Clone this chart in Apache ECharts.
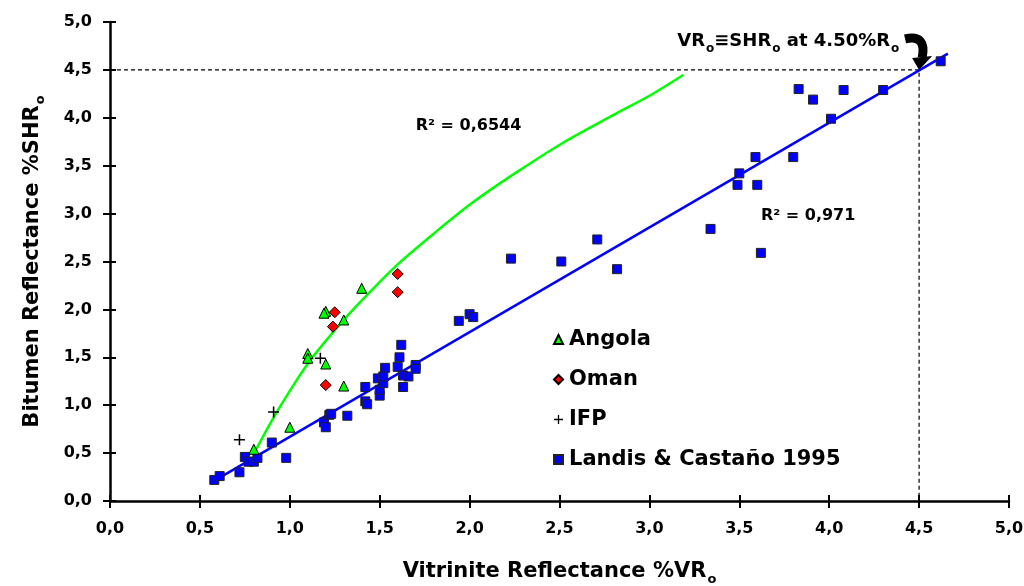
<!DOCTYPE html>
<html><head><meta charset="utf-8">
<script src="https://cdn.jsdelivr.net/npm/echarts@6/dist/echarts.min.js"></script>
<style>html,body{margin:0;padding:0;background:#fff}#c{width:1024px;height:586px}</style>
</head><body><div id="c"></div>
<script>
// ---- data ----
const xTicks = [0, 0.5, 1, 1.5, 2, 2.5, 3, 3.5, 4, 4.5, 5];
const angola = [[0.80,0.54],[1.00,0.77],[1.10,1.54],[1.10,1.49],[1.20,1.43],[1.20,1.98],[1.19,1.96],[1.30,1.89],[1.30,1.20],[1.40,2.22]];
const oman = [[1.25,1.97],[1.24,1.82],[1.20,1.21],[1.60,2.37],[1.60,2.18]];
const ifp = [[0.72,0.64],[0.91,0.93],[1.17,1.49]];
const landis = [[0.58,0.22],[0.61,0.26],[0.72,0.30],[0.75,0.46],[0.77,0.41],[0.80,0.41],[0.82,0.45],[0.90,0.61],[0.98,0.45],
  [1.19,0.82],[1.20,0.77],[1.22,0.90],[1.23,0.91],[1.32,0.89],[1.42,1.19],[1.42,1.04],[1.43,1.01],[1.49,1.28],[1.50,1.10],
  [1.50,1.16],[1.52,1.23],[1.53,1.39],[1.52,1.30],[1.60,1.40],[1.61,1.50],[1.62,1.63],[1.63,1.31],[1.63,1.19],[1.66,1.30],
  [1.70,1.42],[1.70,1.38],[1.94,1.88],[2.00,1.95],[2.02,1.92],[2.23,2.53],[2.51,2.50],[2.71,2.73],[2.82,2.42],[3.34,2.84],
  [3.62,2.59],[3.49,3.30],[3.50,3.42],[3.60,3.30],[3.59,3.59],[3.80,3.59],[4.01,3.99],[3.83,4.30],[3.91,4.19],[4.08,4.29],
  [4.30,4.29],[4.62,4.59]];
const angolaTrend = [[0.81,0.53],[0.90,0.84],[1.00,1.15],[1.11,1.46],[1.30,1.89],[1.45,2.19],[1.60,2.47],[1.80,2.79],[2.02,3.12],[2.26,3.43],[2.52,3.74],[2.80,4.03],[3.00,4.23],[3.19,4.45]];
const landisTrend = [[0.56,0.19],[4.66,4.67]];
const refLine = [[0,4.5],[4.5,4.5],[4.5,0]];
const r2Angola = 'R² = 0,6544';
const r2Landis = 'R² = 0,971';

const FONT = 'DejaVu Sans';
const fmt = v => v.toFixed(1).replace('.', ',');
const plus = 'path://M4.3,0H5.7V4.3H10V5.7H5.7V10H4.3V5.7H0V4.3H4.3Z';
const subRich = { b: { fontFamily: FONT, fontWeight: 'bold', fontSize: 21, color: '#000', lineHeight: 24 },
                  s: { fontFamily: FONT, fontWeight: 'bold', fontSize: 13, color: '#000', verticalAlign: 'top', padding: [13,0,0,1], lineHeight: 13 } };

const baseAxis = { min: 0, max: 5, interval: 0.5, splitLine: { show: false } };
const chart = echarts.init(document.getElementById('c'));
chart.setOption({
  animation: false,
  backgroundColor: '#fff',
  grid: { left: 110, right: 15, top: 22, bottom: 85, containLabel: false, outerBoundsMode: 'none' },
  xAxis: [
    Object.assign({}, baseAxis, { type: 'value', position: 'bottom',
      axisLine: { lineStyle: { color: '#000', width: 2.5 } },
      axisTick: { length: 7, lineStyle: { color: '#000', width: 2 } },
      axisLabel: { formatter: fmt, color: '#000', fontFamily: FONT, fontWeight: 'bold', fontSize: 16, margin: 20 },
      name: '{b|Vitrinite Reflectance %VR}{s|o}', nameLocation: 'middle', nameGap: 59,
      nameTextStyle: { rich: subRich } }),
    Object.assign({}, baseAxis, { type: 'value', position: 'bottom', axisLine: { show: false },
      axisTick: { inside: true, length: 6, lineStyle: { color: '#000', width: 2 } }, axisLabel: { show: false } })
  ],
  yAxis: [
    Object.assign({}, baseAxis, { type: 'value', position: 'left',
      axisLine: { lineStyle: { color: '#000', width: 2.5 } },
      axisTick: { length: 7, lineStyle: { color: '#000', width: 2 } },
      axisLabel: { formatter: fmt, color: '#000', fontFamily: FONT, fontWeight: 'bold', fontSize: 16, margin: 18 },
      name: '{b|Bitumen Reflectance %SHR}{s|o}', nameLocation: 'middle', nameGap: 65, nameRotate: 90,
      nameTextStyle: { rich: subRich } }),
    Object.assign({}, baseAxis, { type: 'value', position: 'left', axisLine: { show: false },
      axisTick: { inside: true, length: 6, lineStyle: { color: '#000', width: 2 } }, axisLabel: { show: false } })
  ],
  legend: {
    orient: 'vertical', left: 548, top: 323, itemWidth: 9, itemHeight: 9, itemGap: 17,
    data: ['Angola', 'Oman', 'IFP', 'Landis & Castaño 1995'],
    textStyle: { fontFamily: FONT, fontWeight: 'bold', fontSize: 21, color: '#000', lineHeight: 23, padding: [0,0,0,1] }
  },
  series: [
    { type: 'line', data: refLine, symbol: 'none', silent: true, z: 1,
      lineStyle: { color: '#000', width: 1.2, type: [4, 3] } },
    { type: 'line', data: angolaTrend, symbol: 'none', smooth: 0.3, silent: true, z: 2,
      lineStyle: { color: '#00ff00', width: 2.5 } },
    { type: 'line', data: landisTrend, symbol: 'none', silent: true, z: 2,
      lineStyle: { color: '#0000ff', width: 2.5 } },
    { name: 'Angola', type: 'scatter', data: angola, symbol: 'triangle', symbolSize: 10, z: 5,
      itemStyle: { color: '#00ff00', borderColor: '#000', borderWidth: 1, opacity: 1 } },
    { name: 'Oman', type: 'scatter', data: oman, symbol: 'diamond', symbolSize: 11, z: 5,
      itemStyle: { color: '#ff0000', borderColor: '#000', borderWidth: 1, opacity: 1 } },
    { name: 'IFP', type: 'scatter', data: ifp, symbol: plus, symbolSize: 11, z: 5,
      itemStyle: { color: '#000', opacity: 1 } },
    { name: 'Landis & Castaño 1995', type: 'scatter', data: landis, symbol: 'rect', symbolSize: 9, z: 4,
      itemStyle: { color: '#0000ff', borderColor: '#222', borderWidth: 1, opacity: 1 } }
  ]
});

// annotations anchored to data coordinates
const px = p => chart.convertToPixel({ gridIndex: 0 }, p);
const tip = px([4.5, 4.5]);
const a1 = px([1.70, 3.89]);
const a2 = px([3.62, 2.96]);
const a3 = px([4.39, 4.80]);
const txt = { fontFamily: FONT, fontWeight: 'bold', fontSize: 16, fill: '#000' };
chart.setOption({
  graphic: [
    { type: 'text', left: a1[0], top: a1[1] - 10, style: Object.assign({ text: r2Angola }, txt) },
    { type: 'text', left: a2[0], top: a2[1] - 10, style: Object.assign({ text: r2Landis }, txt) },
    { type: 'text', x: a3[0], y: a3[1], style: { text: '{b|VR}{s|o}{b|≡SHR}{s|o}{b| at 4.50%R}{s|o}', align: 'right', verticalAlign: 'middle',
        rich: { b: { fontFamily: FONT, fontWeight: 'bold', fontSize: 18, fill: '#000', lineHeight: 21 },
                s: { fontFamily: FONT, fontWeight: 'bold', fontSize: 12, fill: '#000', verticalAlign: 'top', padding: [12,0,0,1], lineHeight: 12 } } } },
    { type: 'bezierCurve', shape: { x1: tip[0] - 14, y1: tip[1] - 31, cpx1: tip[0] + 8, cpy1: tip[1] - 36, x2: tip[0] + 3, y2: tip[1] - 12 },
      style: { stroke: '#000', lineWidth: 9, fill: null } },
    { type: 'polygon', shape: { points: [[tip[0] - 7, tip[1] - 12], [tip[0] + 13, tip[1] - 14], [tip[0], tip[1]]] },
      style: { fill: '#000' } }
  ]
});
</script></body></html>
